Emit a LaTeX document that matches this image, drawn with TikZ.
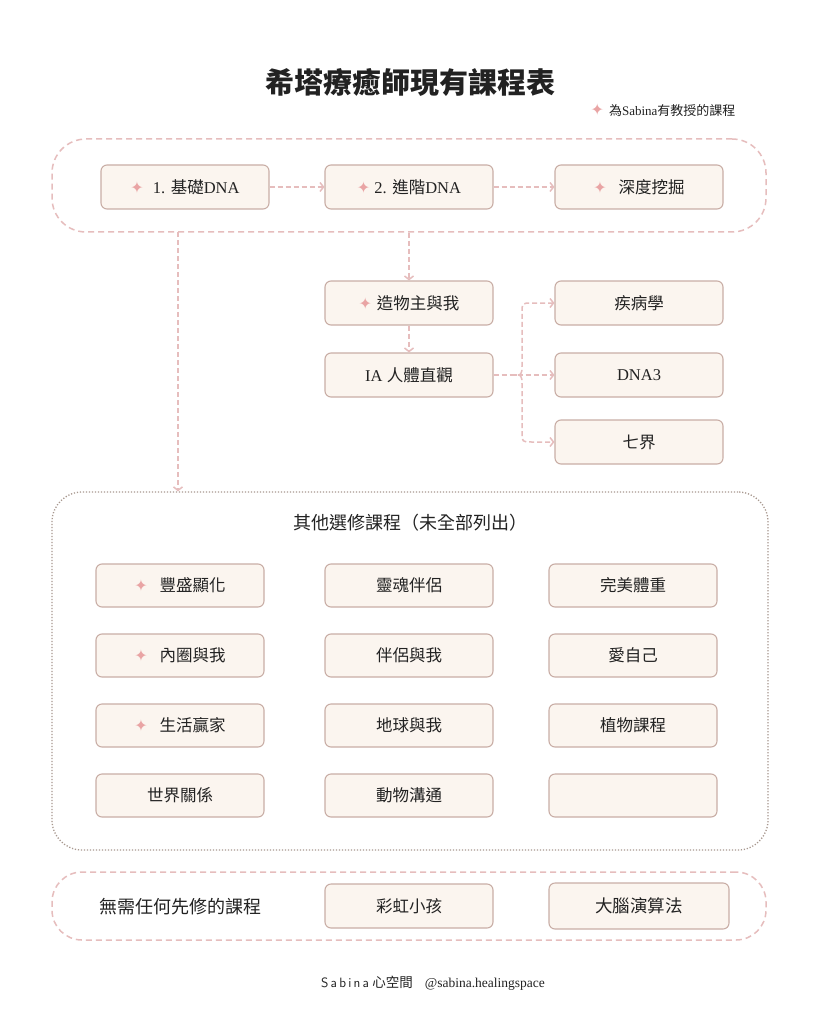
\documentclass[tikz,border=0pt]{standalone}
\usepackage{fontspec}
\setmainfont{Liberation Serif}
\newfontfamily\cjk{Noto Sans CJK TC}
\newfontfamily\sym{DejaVu Sans}
\usetikzlibrary{arrows.meta,calc}
\definecolor{boxf}{HTML}{FBF5EF}
\definecolor{boxd}{HTML}{C9AEA6}
\definecolor{pinkc}{HTML}{E6BDBD}
\definecolor{dotc}{HTML}{A8988F}
\definecolor{starc}{HTML}{E9A4A4}
\definecolor{txt}{HTML}{222222}
\newcommand\spark{{\sym\color{starc}\fontsize{16}{16}\selectfont ✦}}
\tikzset{
  cbox/.style={draw=boxd, fill=boxf, rounded corners=6pt, line width=1.1pt,
    minimum width=168pt, minimum height=44pt, inner sep=0pt, text=txt,
    font=\fontsize{16.5}{16.5}\selectfont},
  conn/.style={draw=pinkc, line width=1.5pt, dash pattern=on 5pt off 3pt,
    -{Straight Barb[length=3.5pt,width=9pt]}},
  dashbox/.style={draw=pinkc, line width=1.5pt, dash pattern=on 6pt off 4pt, rounded corners=34pt},
  dotbox/.style={draw=dotc, line width=1.3pt, dash pattern=on 1.2pt off 1.8pt, rounded corners=30pt},
}
\begin{document}
\begin{tikzpicture}[x=1pt,y=-1pt]
\useasboundingbox[fill=white] (0,0) rectangle (819,1024);

% title and legend
\node[text=txt, font=\fontsize{29}{29}\selectfont\cjk\bfseries] (title) at (410,83) {希塔療癒師現有課程表};
\node[text=txt, anchor=east, font=\fontsize{13}{13}\selectfont] (legend) at (739,110) {\spark\hspace{5pt}{\cjk 為}Sabina{\cjk 有教授的課程}};

% containers
\node[dashbox, minimum width=714pt, minimum height=93pt, inner sep=0pt] (top) at (409,185.5) {};
\node[dotbox, minimum width=716pt, minimum height=358pt, inner sep=0pt] (other) at (410,671) {};
\node[dashbox, rounded corners=30pt, minimum width=714pt, minimum height=68pt, inner sep=0pt] (nopre) at (409,906) {};

% top row
\node[cbox] (b1) at (185,187) {\spark\hspace{9pt}1. {\cjk 基礎}DNA};
\node[cbox] (b2) at (409,187) {\spark\hspace{4pt}2. {\cjk 進階}DNA};
\node[cbox] (b3) at (639,187) {\spark\hspace{12pt}{\cjk 深度挖掘}};
\draw[conn] (b1) -- (b2);
\draw[conn] (b2) -- (b3);

% middle
\node[cbox] (cr) at (409,303) {\spark\hspace{5pt}{\cjk 造物主與我}};
\node[cbox] (ia) at (409,375) {IA {\cjk 人體直觀}};
\node[cbox] (dis) at (639,303) {\cjk 疾病學};
\node[cbox] (dna3) at (639,375) {DNA3};
\node[cbox] (seven) at (639,442) {\cjk 七界};
\draw[conn] (top.south) -- (cr);
\draw[conn] (cr) -- (ia);
\draw[conn] (ia) -- (dna3);
\coordinate (br) at (512,375);
\coordinate (vx) at (522,375);
\draw[conn] (br) .. controls (vx) .. ($(vx)+(0,-10)$) -- (522,313) .. controls (522,303) .. (532,303) -- (dis.west);
\draw[conn] (br) .. controls (vx) .. ($(vx)+(0,10)$) -- (522,432) .. controls (522,442) .. (532,442) -- (seven.west);

% left long arrow
\coordinate (lt) at (178,232);
\draw[conn] (lt) -- (lt |- other.north);

% other courses
\node[text=txt, font=\fontsize{18}{18}\selectfont\cjk] (oh) at (410,523) {其他選修課程（未全部列出）};
\node[cbox, minimum height=43pt] (o11) at (180,585.5) {\spark\hspace{12pt}{\cjk 豐盛顯化}};
\node[cbox, minimum height=43pt] (o12) at (409,585.5) {\cjk 靈魂伴侶};
\node[cbox, minimum height=43pt] (o13) at (633,585.5) {\cjk 完美體重};
\node[cbox, minimum height=43pt] (o21) at (180,655.5) {\spark\hspace{12pt}{\cjk 內圈與我}};
\node[cbox, minimum height=43pt] (o22) at (409,655.5) {\cjk 伴侶與我};
\node[cbox, minimum height=43pt] (o23) at (633,655.5) {\cjk 愛自己};
\node[cbox, minimum height=43pt] (o31) at (180,725.5) {\spark\hspace{12pt}{\cjk 生活贏家}};
\node[cbox, minimum height=43pt] (o32) at (409,725.5) {\cjk 地球與我};
\node[cbox, minimum height=43pt] (o33) at (633,725.5) {\cjk 植物課程};
\node[cbox, minimum height=43pt] (o41) at (180,795.5) {\cjk 世界關係};
\node[cbox, minimum height=43pt] (o42) at (409,795.5) {\cjk 動物溝通};
\node[cbox, minimum height=43pt] (o43) at (633,795.5) {};

% no prerequisite
\node[text=txt, anchor=west, font=\fontsize{18}{18}\selectfont\cjk] (np) at (96,907) {無需任何先修的課程};
\node[cbox] (rb) at (409,906) {\cjk 彩虹小孩};
\node[cbox, minimum width=180pt, minimum height=46pt, font=\fontsize{17.5}{17.5}\selectfont] (brain) at (639,906) {\cjk 大腦演算法};

% footer
\node[text=txt, font=\fontsize{13.5}{13.5}\selectfont] (foot) at (433,983) {{\sffamily S\,a\,b\,i\,n\,a} {\cjk 心空間}\hspace{12pt}@sabina.healingspace};
\end{tikzpicture}
\end{document}
